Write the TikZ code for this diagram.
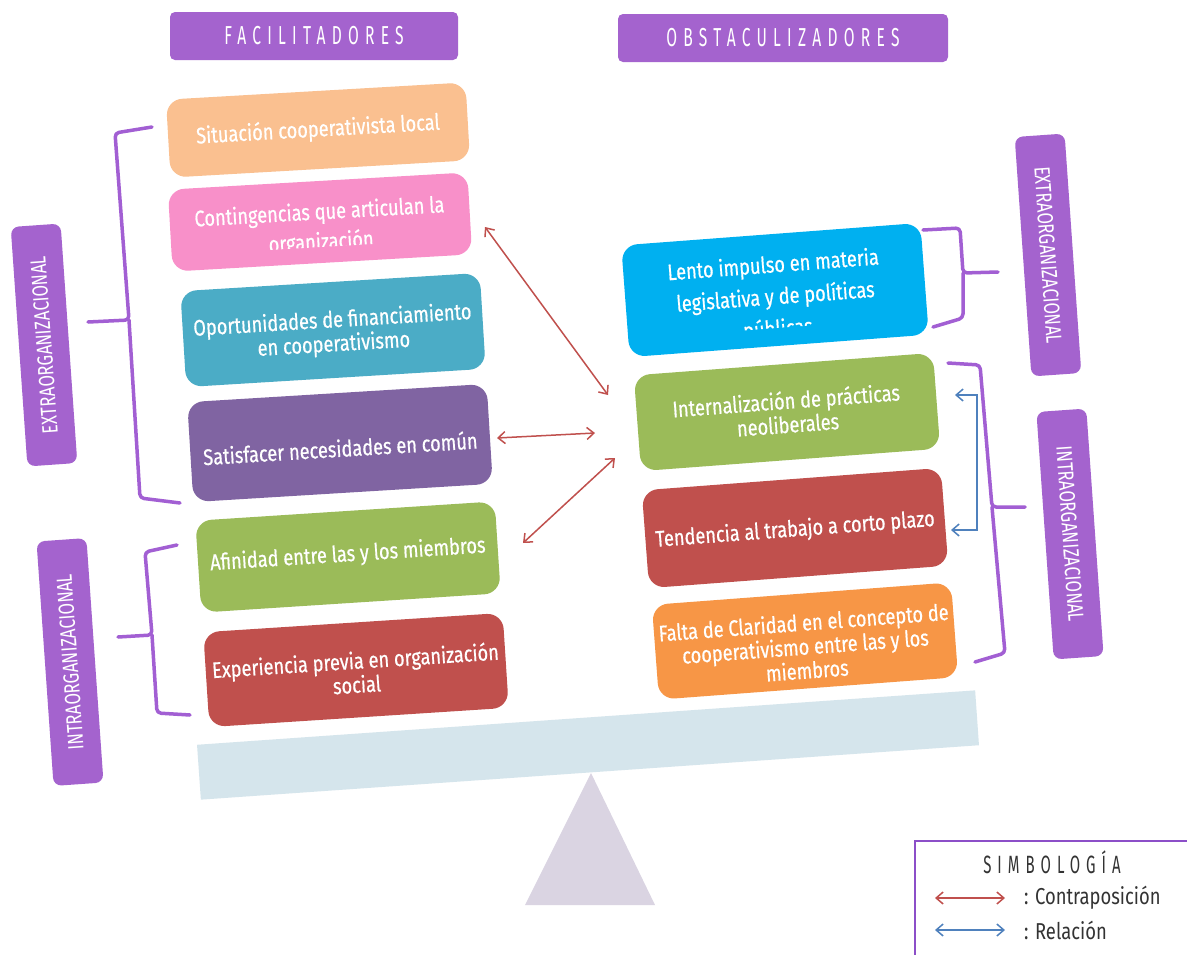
\documentclass[tikz,border=0pt]{standalone}
\usepackage{fontspec}
\setmainfont{Fira Sans}
\newfontfamily\condfont[FakeStretch=0.81,FakeBold=0.6]{Fira Sans}
\newfontfamily\legfont[FakeStretch=0.8]{Fira Sans}
\newfontfamily\sidefont[FakeStretch=0.76]{Fira Sans}
\newfontfamily\hdrfont[FakeStretch=0.6,LetterSpace=24]{Fira Sans}
\usetikzlibrary{arrows.meta}
\definecolor{cPeach}{HTML}{FAC090}
\definecolor{cPink}{HTML}{F890C9}
\definecolor{cTeal}{HTML}{4BACC6}
\definecolor{cViolet}{HTML}{8064A2}
\definecolor{cGreen}{HTML}{9BBB59}
\definecolor{cRed}{HTML}{C0504D}
\definecolor{cCyan}{HTML}{00B0F0}
\definecolor{cOrange}{HTML}{F79646}
\definecolor{hdrPurple}{HTML}{A463CE}
\definecolor{braceP}{HTML}{A25FD3}
\definecolor{arrRed}{HTML}{C0504D}
\definecolor{arrBlue}{HTML}{4F81BD}
\definecolor{plankC}{HTML}{D5E5EC}
\definecolor{triC}{HTML}{DAD4E2}
\definecolor{legBorder}{HTML}{8C4FC8}
\definecolor{legText}{HTML}{333333}
\tikzset{
  fbox/.style={rounded corners=16pt, minimum width=300pt, inner sep=0pt},
  btext/.style={text=white, font=\condfont\fontsize{22.5}{24}\selectfont, align=center, inner sep=0pt},
  hdr/.style={fill=hdrPurple, rounded corners=5pt, minimum height=48pt, text=white, font=\hdrfont\fontsize{26}{28}\selectfont},
  sidebox/.style={fill=hdrPurple, rounded corners=8pt, minimum height=50pt, text=white, font=\sidefont\fontsize{22}{24}\selectfont},
  bracep/.style={draw=braceP, line width=3.5pt, line cap=round, line join=round, rounded corners=4pt},
  redarr/.style={draw=arrRed, line width=1.5pt, {Straight Barb[length=7pt,width=12pt]}-{Straight Barb[length=7pt,width=12pt]}},
  bluearr/.style={draw=arrBlue, line width=1.5pt, {Straight Barb[length=7pt,width=12pt]}-{Straight Barb[length=7pt,width=12pt]}},
  legtext/.style={text=legText, font=\legfont\fontsize{23}{24}\selectfont, inner sep=0pt, anchor=west}
}
% name, x, y, angle, colour, height, text dy, text
\newcommand\colbox[8]{%
  \begin{scope}[shift={(#2,#3)},rotate=#4,transform shape]
    \node[fbox,fill=#5,minimum height=#6] (#1) at (0,0) {};
    \node[btext] (#1t) at (0,#7) {#8};
  \end{scope}}
\begin{document}
\begin{tikzpicture}[x=1pt,y=-1pt]
\useasboundingbox (0,0) rectangle (1187,954);
\fill[white] (0,0) rectangle (1187,954);
\clip (0,0) rectangle (1187,954);

% headers
\node[hdr, minimum width=288pt] (hf) at (314,36) {FACILITADORES};
\node[hdr, minimum width=330pt] (ho) at (783,38) {OBSTACULIZADORES};

% plank and fulcrum
\node[fill=plankC, minimum width=780pt, minimum height=55pt, rotate=4, inner sep=0pt] (plank) at (588,745) {};
\fill[triC] (591,773) -- (655,905) -- (525,905) -- cycle;

% left boxes
\colbox{f1}{318}{130}{3.3}{cPeach}{78pt}{0}{Situación cooperativista local}
\begin{scope}[shift={(320,222)},rotate=3.3,transform shape]
  \node[fbox,fill=cPink,minimum height=82pt] (f2) at (0,0) {};
  \begin{scope}
    \clip (-150,-80) rectangle (150,25);
    \node[btext, font=\condfont\fontsize{22.5}{30}\selectfont] (f2t) at (0,6) {Contingencias que articulan la\\organización};
  \end{scope}
\end{scope}
\colbox{f3}{333}{330}{3.5}{cTeal}{96pt}{3}{Oportunidades de financiamiento\\en cooperativismo}
\colbox{f4}{340}{443}{3.5}{cViolet}{100pt}{5}{Satisfacer necesidades en común}
\colbox{f5}{348}{557}{3.7}{cGreen}{92pt}{-2}{Afinidad entre las y los miembros}
\colbox{f6}{356}{670}{3.7}{cRed}{95pt}{2}{Experiencia previa en organización\\social}

% right boxes
\begin{scope}[shift={(775,290)},rotate=4.3,transform shape]
  \node[fbox,fill=cCyan,minimum height=112pt] (r1) at (0,0) {};
  \begin{scope}
    \clip (-150,-80) rectangle (150,38);
    \node[btext, font=\condfont\fontsize{22.5}{32}\selectfont] (r1t) at (0,8) {Lento impulso en materia\\legislativa y de políticas\\públicas};
  \end{scope}
\end{scope}
\colbox{r2}{787}{412}{4.3}{cGreen}{96pt}{0}{Internalización de prácticas\\neoliberales}
\colbox{r3}{795}{528}{4.3}{cRed}{98pt}{2}{Tendencia al trabajo a corto plazo}
\colbox{r4}{805}{641}{4.3}{cOrange}{95pt}{5}{Falta de Claridad en el concepto de\\cooperativismo entre las y los\\miembros}

% side labels
\node[sidebox, minimum width=240pt, rotate=94] (le) at (44,345) {EXTRAORGANIZACIONAL};
\node[sidebox, minimum width=245pt, rotate=94] (li) at (70,662) {INTRAORGANIZACIONAL};
\node[sidebox, minimum width=240pt, rotate=-86] (re) at (1048,255) {EXTRAORGANIZACIONAL};
\node[sidebox, minimum width=248pt, rotate=-86] (ri) at (1070,534) {INTRAORGANIZACIONAL};

% braces
\draw[bracep] (152,127) -- (115,133) -- (129,320) -- (88,322);
\draw[bracep] (129,320) -- (140,498) -- (180,503);
\draw[bracep] (177,545) -- (145,552) -- (152,635) -- (118,637);
\draw[bracep] (152,635) -- (157,713) -- (190,715);
\draw[bracep] (923,230) -- (960,228) -- (963,273) -- (998,272);
\draw[bracep] (963,273) -- (963,318) -- (933,327);
\draw[bracep] (948,363) -- (980,365) -- (992,507) -- (1025,507);
\draw[bracep] (992,507) -- (1005,653) -- (975,662);

% connectors
\coordinate (a1) at (485,227);
\coordinate (a2) at (608,395);
\coordinate (b1) at (497,438);
\coordinate (b2) at (595,433);
\coordinate (c1) at (523,543);
\coordinate (c2) at (615,458);
\coordinate (d1) at (955,395);
\coordinate (d2) at (951,530);
\draw[redarr] (a1) -- (a2);
\draw[redarr] (b1) -- (b2);
\draw[redarr] (c1) -- (c2);
\draw[bluearr] (d1) -- ++(22,0) |- (d2);

% legend
\draw[legBorder, line width=2.5pt] (915,841) rectangle (1200,980);
\node[text=legText, font=\hdrfont\fontsize{25}{26}\selectfont, inner sep=0pt] (lgt) at (1052,862) {SIMBOLOGÍA};
\coordinate (l1) at (935,898);
\coordinate (l2) at (1005,898);
\coordinate (l3) at (935,930);
\coordinate (l4) at (1005,930);
\draw[redarr] (l1) -- (l2);
\draw[bluearr] (l3) -- (l4);
\node[legtext] (lc) at (1024,898) {: Contraposición};
\node[legtext] (lr) at (1024,930) {: Relación};
\end{tikzpicture}
\end{document}
